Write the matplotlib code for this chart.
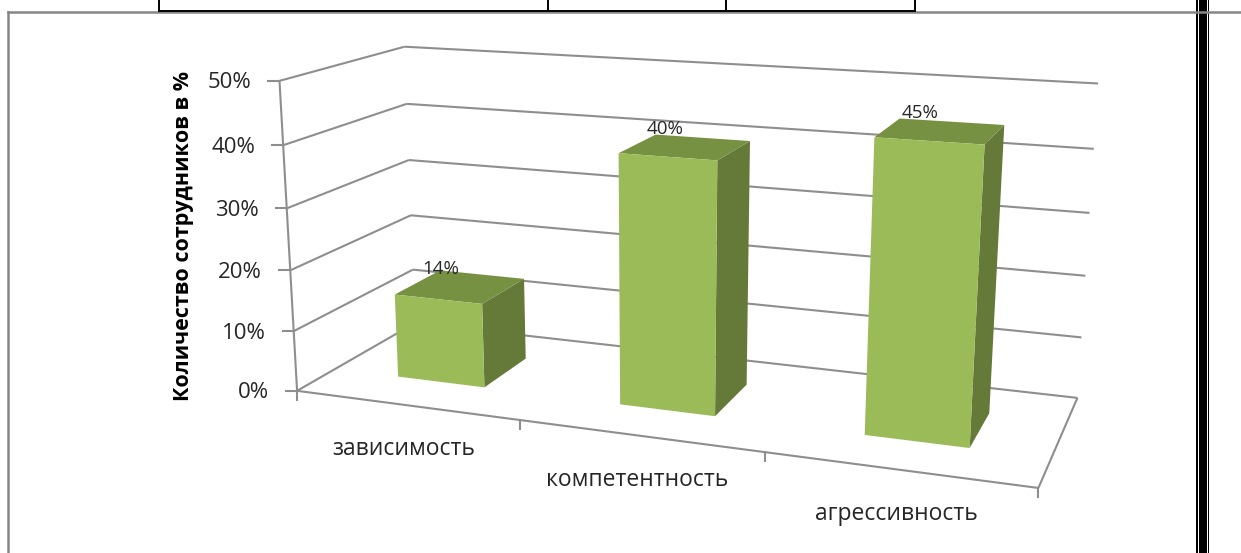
import numpy as np
import matplotlib
matplotlib.use("Agg")
import matplotlib.pyplot as plt
from matplotlib.patches import Polygon

categories = ["зависимость", "компетентность", "агрессивность"]
values = [14, 40, 45]
value_ticks = [0, 10, 20, 30, 40, 50]
axis_title = "Количество сотрудников в %"

# colours
FRONT = "#9BBB59"
TOP = "#779143"
SIDE = "#657A38"
GRID = "#8E8E8E"
TEXT = "#262626"

plt.rcParams["font.family"] = ["Open Sans", "Noto Sans", "DejaVu Sans"]

W, H = 1241, 553
fig = plt.figure(figsize=(W / 100, H / 100), dpi=100)
ax = fig.add_axes([0, 0, 1, 1])
ax.set_xlim(0, W)
ax.set_ylim(H, 0)
ax.axis("off")

# chart space (category, value, depth) -> picture, solved from the corners of the box
world = [(0, 0, 0), (0, 50, 0), (0, 0, 1), (0, 50, 1), (3, 0, 1), (3, 50, 1),
         (3, 0, 0), (1, 0, 0), (2, 0, 0)]
picture = [(298, 390), (279, 80), (414, 324), (405, 47), (1078, 396), (1098, 84),
           (1038, 489), (520, 420), (765, 453)]
rows = []
rhs = []
for (a, b, c), (u, v) in zip(world, picture):
    rows.append([a, b, c, 1, 0, 0, 0, 0, -u * a, -u * b, -u * c])
    rows.append([0, 0, 0, 0, a, b, c, 1, -v * a, -v * b, -v * c])
    rhs += [u, v]
m = np.linalg.lstsq(np.array(rows, float), np.array(rhs, float), rcond=None)[0]
P = np.append(m, 1).reshape(3, 4)


def project(cat, val, depth):
    p = P @ np.array([cat, val, depth, 1.0])
    return p[0] / p[2], p[1] / p[2]


def line(a, b, color=GRID, lw=1.5, z=1):
    pa, pb = project(*a), project(*b)
    ax.plot([pa[0], pb[0]], [pa[1], pb[1]], color=color, lw=lw, zorder=z,
            solid_capstyle="butt")


# walls and floor
for t in value_ticks:
    line((0, t, 0), (0, t, 1))
    line((0, t, 1), (3, t, 1))
    x, y = project(0, t, 0)
    ax.plot([x - 11, x], [y, y], color=GRID, lw=1.5, zorder=1)
    ax.text(x - 28, y + 2, f"{t}%", ha="right", va="center", fontsize=16, color=TEXT)
line((0, 0, 0), (0, 50, 0))
line((0, 0, 0), (3, 0, 0))
line((3, 0, 0), (3, 0, 1))
for i in range(len(categories) + 1):
    x, y = project(i, 0, 0)
    ax.plot([x, x], [y, y + 9], color=GRID, lw=1.5, zorder=1)

# bars
bar_width = 0.4
d0, d1 = 0.3, 0.7
for i, (name, val) in enumerate(zip(categories, values)):
    a, b = i + 0.5 - bar_width / 2, i + 0.5 + bar_width / 2
    side = [project(b, 0, d0), project(b, 0, d1), project(b, val, d1), project(b, val, d0)]
    top = [project(a, val, d0), project(b, val, d0), project(b, val, d1), project(a, val, d1)]
    front = [project(a, 0, d0), project(b, 0, d0), project(b, val, d0), project(a, val, d0)]
    ax.add_patch(Polygon(side, facecolor=SIDE, edgecolor="none", zorder=3))
    ax.add_patch(Polygon(top, facecolor=TOP, edgecolor="none", zorder=3))
    ax.add_patch(Polygon(front, facecolor=FRONT, edgecolor="none", zorder=3))

    x, y = project(i + 0.5, val, (d0 + d1) / 2)
    ax.text(x - 20, y - 18, f"{val}%", ha="center", va="center", fontsize=13.5,
            color=TEXT, zorder=4)

    x, y = project(i + 0.5, 0, 0)
    ax.text(x - 2, y + 44, name, ha="center", va="center", fontsize=16.5, color=TEXT)

ax.text(183, 236, axis_title, rotation=90, ha="center", va="center", fontsize=15.5,
        fontweight="bold", color="black")

# page around the chart: table above, chart frame, double rule on the right
ax.plot([8, 8], [12, H], color="#868686", lw=1.8)
ax.plot([8, W], [12, 12], color="#868686", lw=1.8)
ax.plot([159, 915], [11, 11], color="black", lw=1.4)
for x in [159, 548, 726, 915]:
    ax.plot([x, x], [0, 11], color="black", lw=1.4)
ax.fill_between([1195.7, 1197.7], 0, H, color="black", lw=0)
ax.fill_between([1199, 1206.7], 0, H, color="black", lw=0)
ax.fill_between([1207.7, 1209.3], 0, H, color="black", lw=0)

fig.savefig("out.png", dpi=100)
